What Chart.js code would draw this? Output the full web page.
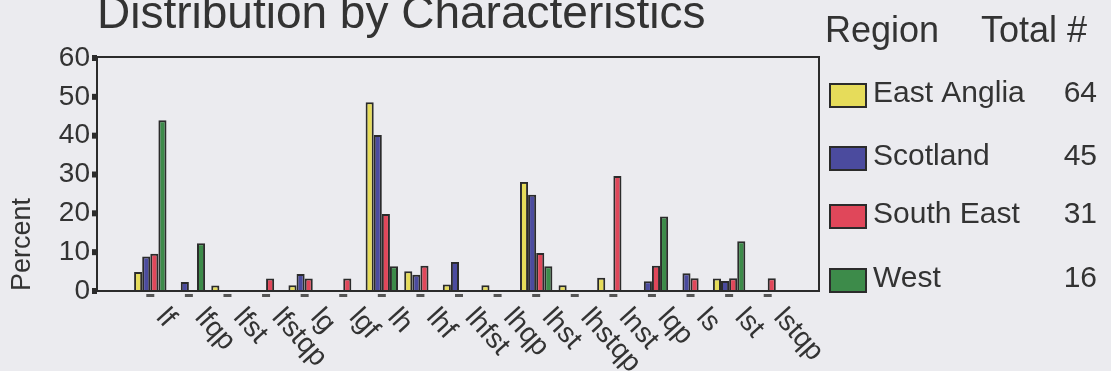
<!DOCTYPE html>
<html>
<head>
<meta charset="utf-8">
<script src="https://cdn.jsdelivr.net/npm/chart.js@4"></script>
<style>
  body { margin: 0; background: #ebebef; }
  canvas { display: block; }
</style>
</head>
<body>
<canvas id="distChart" width="1111" height="371"></canvas>
<script>
var categories = ['lf', 'lfqp', 'lfst', 'lfstqp', 'lg', 'lgf', 'lh', 'lhf', 'lhfst', 'lhqp',
  'lhst', 'lhstqp', 'lnst', 'lqp', 'ls', 'lst', 'lstqp'];
var regionNames = ['East Anglia', 'Scotland', 'South East', 'West'];
var regionTotals = [64, 45, 31, 16];
var eastAnglia = [4.9, 0, 1.4, 0, 1.5, 0, 48.6, 5.1, 1.7, 1.5, 28.1, 1.5, 3.4, 0, 0, 3.2, 0];
var scotland   = [8.9, 2.3, 0, 0, 4.4, 0, 40.2, 4.2, 7.5, 0, 24.8, 0, 0, 2.5, 4.6, 2.6, 0];
var southEast  = [9.6, 0, 0, 3.2, 3.2, 3.2, 19.8, 6.5, 0, 0, 9.8, 0, 29.6, 6.5, 3.3, 3.3, 3.3];
var west       = [44, 12.3, 0, 0, 0, 0, 6.4, 0, 0, 0, 6.4, 0, 0, 19.2, 0, 12.8, 0];
var yTicks = [0, 10, 20, 30, 40, 50, 60];

var colors = ['#e6dc5a', '#4b4b9e', '#e0475a', '#3d8b4a'];
var ink = '#2b2b2b';

// frame, tick marks, rotated labels, title and the legend table
var decor = {
  id: 'decor',
  beforeDraw: function (chart) {
    var c = chart.ctx;
    c.save();
    c.fillStyle = '#ebebef';
    c.fillRect(0, 0, chart.width, chart.height);
    c.restore();
  },
  afterDraw: function (chart) {
    var c = chart.ctx;
    var x = chart.scales.x, y = chart.scales.y;
    var left = 97, right = 819, top = 57, bottom = y.getPixelForValue(0);
    c.save();
    c.strokeStyle = ink;
    c.lineWidth = 2;
    c.strokeRect(left, top, right - left, bottom - top);

    c.fillStyle = ink;
    yTicks.forEach(function (v) {
      c.fillRect(left - 5, y.getPixelForValue(v) - 3, 5, 6);
    });

    c.font = '28px "Liberation Sans", Arial, sans-serif';
    c.textAlign = 'left';
    c.textBaseline = 'alphabetic';
    categories.forEach(function (lab, i) {
      var px = x.getPixelForValue(i);
      c.fillStyle = '#555';
      c.fillRect(px - 4, bottom + 3, 8, 3);
      c.fillStyle = '#333';
      c.save();
      c.translate(px + 5, bottom + 27);
      c.rotate(48 * Math.PI / 180);
      c.fillText(lab, 0, 0);
      c.restore();
    });

    c.fillStyle = '#333';
    c.font = '46px "Liberation Sans", Arial, sans-serif';
    c.fillText('Distribution by Characteristics', 97, 28);

    c.font = '36px "Liberation Sans", Arial, sans-serif';
    c.fillText('Region', 825, 42);
    c.textAlign = 'right';
    c.fillText('Total #', 1087, 42);

    var rows = [102, 165, 223, 287];
    c.font = '30px "Liberation Sans", Arial, sans-serif';
    regionNames.forEach(function (name, i) {
      c.fillStyle = colors[i];
      c.fillRect(830, rows[i] - 18, 36, 23);
      c.strokeStyle = ink;
      c.lineWidth = 2;
      c.strokeRect(830, rows[i] - 18, 36, 23);
      c.fillStyle = '#333';
      c.textAlign = 'left';
      c.fillText(name, 873, rows[i]);
      c.textAlign = 'right';
      c.fillText(String(regionTotals[i]), 1097, rows[i]);
    });
    c.restore();
  }
};

function makeSet(label, data, i) {
  return {
    label: label,
    data: data,
    backgroundColor: colors[i],
    borderColor: ink,
    borderWidth: 2,
    borderSkipped: 'bottom',
    categoryPercentage: 0.84,
    barPercentage: 1.0
  };
}

var ctx = document.getElementById('distChart');
var distChart = new Chart(ctx, {
  type: 'bar',
  data: {
    labels: categories,
    datasets: [
      makeSet(regionNames[0], eastAnglia, 0),
      makeSet(regionNames[1], scotland, 1),
      makeSet(regionNames[2], southEast, 2),
      makeSet(regionNames[3], west, 3)
    ]
  },
  options: {
    responsive: false,
    animation: false,
    devicePixelRatio: 1,
    layout: { padding: { left: 0, top: 58, right: 324, bottom: 0 } },
    scales: {
      x: {
        grid: { display: false, drawTicks: false },
        border: { display: false },
        ticks: { display: false },
        afterFit: function (s) { s.height = 80; }
      },
      y: {
        min: 0,
        max: 60,
        grid: { display: false, drawTicks: false },
        border: { display: false },
        ticks: {
          stepSize: 10,
          padding: 41,
          color: '#333',
          font: { family: '"Liberation Sans", Arial, sans-serif', size: 28 }
        },
        title: {
          display: true,
          text: 'Percent',
          align: 'start',
          color: '#333',
          padding: { top: 6, bottom: 0 },
          font: { family: '"Liberation Sans", Arial, sans-serif', size: 27 }
        },
        afterFit: function (s) { s.width = 131; }
      }
    },
    plugins: {
      legend: { display: false },
      title: { display: false },
      tooltip: { enabled: false }
    }
  },
  plugins: [decor]
});
</script>
</body>
</html>
